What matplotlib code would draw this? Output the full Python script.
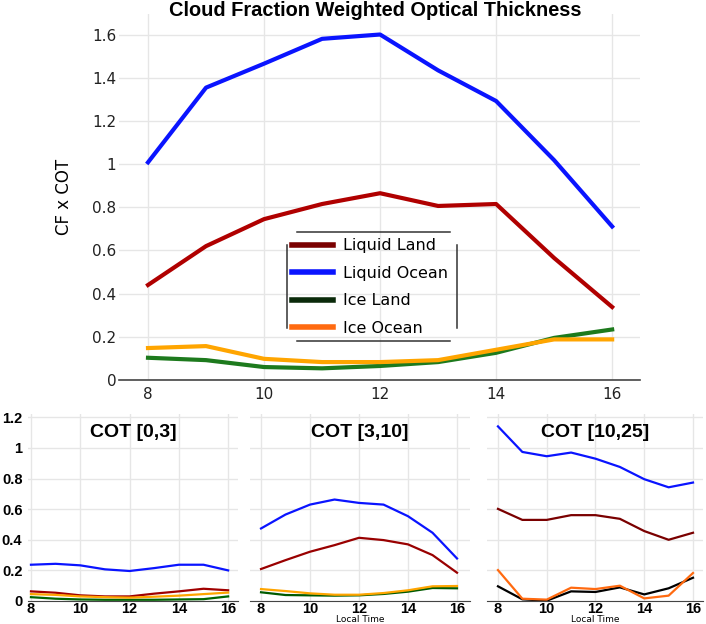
import matplotlib
matplotlib.use("Agg")
import matplotlib.pyplot as plt
from matplotlib.lines import Line2D

hours = [8, 9, 10, 11, 12, 13, 14, 15, 16]

# top panel: all COT
liquid_land = [0.44, 0.62, 0.745, 0.815, 0.865, 0.806, 0.815, 0.565, 0.338]
liquid_ocean = [1.008, 1.354, 1.465, 1.58, 1.60, 1.434, 1.292, 1.018, 0.711]
ice_land = [0.103, 0.092, 0.06, 0.054, 0.065, 0.083, 0.126, 0.195, 0.234]
ice_ocean = [0.148, 0.157, 0.098, 0.083, 0.083, 0.092, 0.14, 0.188, 0.188]

# COT [0,3]
thin_ll = [0.063, 0.054, 0.037, 0.03, 0.03, 0.048, 0.063, 0.08, 0.07]
thin_lo = [0.237, 0.243, 0.233, 0.207, 0.196, 0.215, 0.237, 0.237, 0.2]
thin_il = [0.025, 0.015, 0.01, 0.008, 0.008, 0.008, 0.01, 0.012, 0.03]
thin_io = [0.045, 0.04, 0.03, 0.025, 0.022, 0.028, 0.035, 0.045, 0.055]

# COT [3,10]
mid_ll = [0.209, 0.267, 0.322, 0.365, 0.413, 0.398, 0.37, 0.3, 0.185]
mid_lo = [0.474, 0.565, 0.63, 0.663, 0.641, 0.63, 0.554, 0.446, 0.278]
mid_il = [0.057, 0.039, 0.037, 0.035, 0.037, 0.046, 0.061, 0.085, 0.083]
mid_io = [0.078, 0.065, 0.05, 0.041, 0.041, 0.052, 0.07, 0.096, 0.098]

# COT [10,25]
thick_ll = [0.602, 0.53, 0.53, 0.561, 0.561, 0.537, 0.457, 0.4, 0.446]
thick_lo = [1.141, 0.974, 0.946, 0.97, 0.93, 0.876, 0.796, 0.743, 0.774]
thick_il = [0.096, 0.011, 0.002, 0.063, 0.059, 0.089, 0.043, 0.083, 0.152]
thick_io = [0.202, 0.015, 0.009, 0.087, 0.078, 0.1, 0.017, 0.035, 0.183]

series_names = ["Liquid Land", "Liquid Ocean", "Ice Land", "Ice Ocean"]
top_yticks = [0, 0.2, 0.4, 0.6, 0.8, 1.0, 1.2, 1.4, 1.6]
top_ylabels = ["0", "0.2", "0.4", "0.6", "0.8", "1", "1.2", "1.4", "1.6"]
bot_yticks = [0, 0.2, 0.4, 0.6, 0.8, 1.0, 1.2]
bot_ylabels = ["0", "0.2", "0.4", "0.6", "0.8", "1", "1.2"]
xticks = [8, 10, 12, 14, 16]

grid_c = "#e6e6e6"
axis_c = "#444444"
W, H = 706, 624

fig = plt.figure(figsize=(7.06, 6.24), dpi=100)

# ---- top panel ----
ax = fig.add_axes([119 / W, 1 - 380 / H, 521 / W, 366 / H])
ax.plot(hours, liquid_land, color="#b00000", lw=3)
ax.plot(hours, liquid_ocean, color="#0a14ff", lw=3)
ax.plot(hours, ice_land, color="#1d7a1d", lw=3)
ax.plot(hours, ice_ocean, color="#ffa500", lw=3)
ax.set_xlim(7.5, 16.48)
ax.set_ylim(0, 1.695)
ax.set_xticks(xticks)
ax.set_yticks(top_yticks)
ax.set_yticklabels(top_ylabels)
ax.grid(True, color=grid_c, lw=1)
ax.set_axisbelow(True)
for s in ["top", "right", "left"]:
    ax.spines[s].set_visible(False)
ax.spines["bottom"].set_color(axis_c)
ax.spines["bottom"].set_linewidth(1.2)
ax.tick_params(length=0, labelsize=11, colors="#222222")
ax.tick_params(axis="y", pad=2)
ax.tick_params(axis="x", pad=5)
ax.set_ylabel("CF x COT", fontsize=12, labelpad=14)
fig.text(375 / W, 1 - 11 / H, "Cloud Fraction Weighted Optical Thickness",
         ha="center", va="center", fontsize=14.4, fontweight="bold",
         family=["Liberation Sans", "DejaVu Sans"])

# legend uses the colours of the thick-cloud panel
leg_colors = ["#7a0000", "#0a14ff", "#0a2a0a", "#ff6a10"]
handles = [Line2D([], [], color=c, lw=4) for c in leg_colors]
ax.legend(handles, series_names, loc="center", frameon=False, fontsize=11.5,
          handlelength=2.6, handletextpad=0.6, labelspacing=0.78,
          bbox_to_anchor=(370 / W, 1 - 287 / H),
          bbox_transform=fig.transFigure)
# broken-corner frame around the legend
frame = [((297, 450), (232, 232)), ((297, 450), (341, 341)),
         ((287, 287), (245, 328)), ((457, 457), (245, 328))]
for xs, ys in frame:
    fig.add_artist(Line2D([x / W for x in xs], [1 - y / H for y in ys],
                          color="#333333", lw=1.1, transform=fig.transFigure))

# ---- bottom panels ----
panels = [
    ("COT [0,3]", 28, 210, (7.88, 16.4), [thin_ll, thin_lo, thin_il, thin_io],
     ["#a00000", "#0a14ff", "#006400", "#ffa500"], False),
    ("COT [3,10]", 250, 220, (7.55, 16.53), [mid_ll, mid_lo, mid_il, mid_io],
     ["#990000", "#0a14ff", "#005a00", "#ffa500"], True),
    ("COT [10,25]", 487, 216, (7.55, 16.41), [thick_ll, thick_lo, thick_il, thick_io],
     ["#7a0000", "#0a14ff", "#000000", "#ff6a10"], True),
]
for i, (title, left, width, xl, data, cols, xlab) in enumerate(panels):
    a = fig.add_axes([left / W, 1 - 601 / H, width / W, 187 / H])
    for vals, c in zip(data, cols):
        a.plot(hours, vals, color=c, lw=1.6)
    a.set_xlim(*xl)
    a.set_ylim(0, 1.222)
    a.set_xticks(xticks)
    a.set_yticks(bot_yticks)
    if i == 0:
        a.set_yticklabels(bot_ylabels)
    else:
        a.set_yticklabels([])
    a.grid(True, color=grid_c, lw=1)
    a.set_axisbelow(True)
    for s in ["top", "right", "left"]:
        a.spines[s].set_visible(False)
    a.spines["bottom"].set_color(axis_c)
    a.tick_params(length=0, labelsize=10.5)
    a.tick_params(axis="x", pad=1)
    a.tick_params(axis="y", pad=4)
    for lab in a.get_xticklabels() + a.get_yticklabels():
        lab.set_fontweight("bold")
        lab.set_family(["Liberation Sans", "DejaVu Sans"])
    a.text(0.5, 0.9, title, transform=a.transAxes, ha="center", va="center",
           fontsize=14, fontweight="bold", family=["Liberation Sans", "DejaVu Sans"])
    if xlab:
        a.set_xlabel("Local Time", fontsize=6.5, labelpad=-1)

fig.savefig("out.png", dpi=100)
